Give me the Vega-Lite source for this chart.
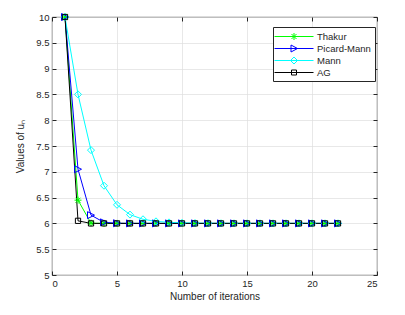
{
  "$schema": "https://vega.github.io/schema/vega-lite/v6.json",
  "width": 325,
  "height": 258,
  "autosize": "none",
  "padding": {"left": 52, "top": 17, "right": 28, "bottom": 40},
  "background": "white",
  "config": {
    "view": {"stroke": "#262626", "strokeWidth": 0.8},
    "font": "Liberation Sans",
    "axis": {"labelFont": "Liberation Sans", "titleFont": "Liberation Sans", "labelColor": "#262626", "titleColor": "#262626", "labelFontSize": 9.5, "titleFontSize": 10, "titleFontWeight": "normal", "domain": false, "tickColor": "#262626", "gridColor": "#dedede", "gridWidth": 0.7},
    "point": {"filled": false, "size": 49, "strokeWidth": 1, "opacity": 1}
  },
  "data": {"values": [
    {"s":"Thakur","n":1,"u":10},{"s":"Thakur","n":2,"u":6.45},{"s":"Thakur","n":3,"u":6.005},{"s":"Thakur","n":4,"u":6},{"s":"Thakur","n":5,"u":6},{"s":"Thakur","n":6,"u":6},{"s":"Thakur","n":7,"u":6},{"s":"Thakur","n":8,"u":6},{"s":"Thakur","n":9,"u":6},{"s":"Thakur","n":10,"u":6},{"s":"Thakur","n":11,"u":6},{"s":"Thakur","n":12,"u":6},{"s":"Thakur","n":13,"u":6},{"s":"Thakur","n":14,"u":6},{"s":"Thakur","n":15,"u":6},{"s":"Thakur","n":16,"u":6},{"s":"Thakur","n":17,"u":6},{"s":"Thakur","n":18,"u":6},{"s":"Thakur","n":19,"u":6},{"s":"Thakur","n":20,"u":6},{"s":"Thakur","n":21,"u":6},{"s":"Thakur","n":22,"u":6},
    {"s":"Picard-Mann","n":1,"u":10},{"s":"Picard-Mann","n":2,"u":7.05},{"s":"Picard-Mann","n":3,"u":6.16},{"s":"Picard-Mann","n":4,"u":6.02},{"s":"Picard-Mann","n":5,"u":6.003},{"s":"Picard-Mann","n":6,"u":6},{"s":"Picard-Mann","n":7,"u":6},{"s":"Picard-Mann","n":8,"u":6},{"s":"Picard-Mann","n":9,"u":6},{"s":"Picard-Mann","n":10,"u":6},{"s":"Picard-Mann","n":11,"u":6},{"s":"Picard-Mann","n":12,"u":6},{"s":"Picard-Mann","n":13,"u":6},{"s":"Picard-Mann","n":14,"u":6},{"s":"Picard-Mann","n":15,"u":6},{"s":"Picard-Mann","n":16,"u":6},{"s":"Picard-Mann","n":17,"u":6},{"s":"Picard-Mann","n":18,"u":6},{"s":"Picard-Mann","n":19,"u":6},{"s":"Picard-Mann","n":20,"u":6},{"s":"Picard-Mann","n":21,"u":6},{"s":"Picard-Mann","n":22,"u":6},
    {"s":"Mann","n":1,"u":10},{"s":"Mann","n":2,"u":8.5},{"s":"Mann","n":3,"u":7.42},{"s":"Mann","n":4,"u":6.73},{"s":"Mann","n":5,"u":6.36},{"s":"Mann","n":6,"u":6.17},{"s":"Mann","n":7,"u":6.08},{"s":"Mann","n":8,"u":6.04},{"s":"Mann","n":9,"u":6.02},{"s":"Mann","n":10,"u":6.01},{"s":"Mann","n":11,"u":6.005},{"s":"Mann","n":12,"u":6.002},{"s":"Mann","n":13,"u":6.001},{"s":"Mann","n":14,"u":6},{"s":"Mann","n":15,"u":6},{"s":"Mann","n":16,"u":6},{"s":"Mann","n":17,"u":6},{"s":"Mann","n":18,"u":6},{"s":"Mann","n":19,"u":6},{"s":"Mann","n":20,"u":6},{"s":"Mann","n":21,"u":6},{"s":"Mann","n":22,"u":6},
    {"s":"AG","n":1,"u":10},{"s":"AG","n":2,"u":6.05},{"s":"AG","n":3,"u":6},{"s":"AG","n":4,"u":6},{"s":"AG","n":5,"u":6},{"s":"AG","n":6,"u":6},{"s":"AG","n":7,"u":6},{"s":"AG","n":8,"u":6},{"s":"AG","n":9,"u":6},{"s":"AG","n":10,"u":6},{"s":"AG","n":11,"u":6},{"s":"AG","n":12,"u":6},{"s":"AG","n":13,"u":6},{"s":"AG","n":14,"u":6},{"s":"AG","n":15,"u":6},{"s":"AG","n":16,"u":6},{"s":"AG","n":17,"u":6},{"s":"AG","n":18,"u":6},{"s":"AG","n":19,"u":6},{"s":"AG","n":20,"u":6},{"s":"AG","n":21,"u":6},{"s":"AG","n":22,"u":6}
  ]},
  "resolve": {"axis": {"x": "independent", "y": "independent"}},
  "layer": [
    {
      "mark": {"type": "line", "strokeWidth": 1},
      "encoding": {
        "x": {"field": "n", "type": "quantitative", "scale": {"domain": [0, 25], "nice": false}, "axis": {"orient": "bottom", "title": "Number of iterations", "values": [0,5,10,15,20,25], "tickSize": -4, "labelPadding": 7, "titlePadding": 4, "grid": true}},
        "y": {"field": "u", "type": "quantitative", "scale": {"domain": [5, 10], "nice": false, "zero": false}, "axis": {"orient": "left", "title": "Values of uₙ", "values": [5,5.5,6,6.5,7,7.5,8,8.5,9,9.5,10], "format": "~g", "tickSize": -4, "labelPadding": 7, "titlePadding": 10, "grid": true}},
        "color": {"field": "s", "type": "nominal", "sort": ["Thakur","Picard-Mann","Mann","AG"], "scale": {"domain": ["Thakur","Picard-Mann","Mann","AG"], "range": ["#00ff00","#0000ff","#00ffff","#000000"]},
          "legend": {"title": null, "orient": "none", "legendX": 221, "legendY": 10, "fillColor": "white", "strokeColor": "#262626", "padding": 4, "rowPadding": 1, "symbolSize": 100, "labelOffset": 29, "labelFontSize": 9.5, "labelColor": "#262626", "labelFont": "Liberation Sans",
            "encode": {"symbols": {"update": {
              "shape": {"signal": "datum.value === 'Thakur' ? 'M-1.6,0H6.2M2.3,-0.7V0.7M1.6,0H3.0M1.8,-0.5L2.8,0.5M1.8,0.5L2.8,-0.5' : datum.value === 'Picard-Mann' ? 'M-1.6,0H6.2M1.7,-0.7L3.0,0L1.7,0.7Z' : datum.value === 'Mann' ? 'M-1.6,0H6.2M2.3,-0.7L3.0,0L2.3,0.7L1.6,0Z' : 'M-1.6,0H6.2M1.8,-0.5H2.8V0.5H1.8Z'"},
              "fill": {"value": "transparent"},
              "strokeWidth": {"value": 1},
              "opacity": {"value": 1}
            }}}}}
      }
    },
    {
      "transform": [{"filter": "datum.s === 'Thakur'"}],
      "mark": {"type": "point", "shape": "M-1,0H1M0,-1V1M-0.7,-0.7L0.7,0.7M-0.7,0.7L0.7,-0.7", "color": "#00ff00"},
      "encoding": {
        "x": {"field": "n", "type": "quantitative", "axis": null},
        "y": {"field": "u", "type": "quantitative", "axis": null}
      }
    },
    {
      "transform": [{"filter": "datum.s === 'Picard-Mann'"}],
      "mark": {"type": "point", "shape": "M-1,-1L1,0L-1,1Z", "color": "#0000ff"},
      "encoding": {
        "x": {"field": "n", "type": "quantitative", "axis": null},
        "y": {"field": "u", "type": "quantitative", "axis": null}
      }
    },
    {
      "transform": [{"filter": "datum.s === 'Mann'"}],
      "mark": {"type": "point", "shape": "M0,-1L1,0L0,1L-1,0Z", "color": "#00ffff"},
      "encoding": {
        "x": {"field": "n", "type": "quantitative", "axis": null},
        "y": {"field": "u", "type": "quantitative", "axis": null}
      }
    },
    {
      "transform": [{"filter": "datum.s === 'AG'"}],
      "mark": {"type": "point", "shape": "M-0.75,-0.75H0.75V0.75H-0.75Z", "color": "#000000"},
      "encoding": {
        "x": {"field": "n", "type": "quantitative", "axis": {"orient": "top", "title": null, "labels": false, "values": [0,5,10,15,20,25], "tickSize": -4, "grid": false}},
        "y": {"field": "u", "type": "quantitative", "axis": {"orient": "right", "title": null, "labels": false, "values": [5,5.5,6,6.5,7,7.5,8,8.5,9,9.5,10], "tickSize": -4, "grid": false}}
      }
    }
  ]
}
